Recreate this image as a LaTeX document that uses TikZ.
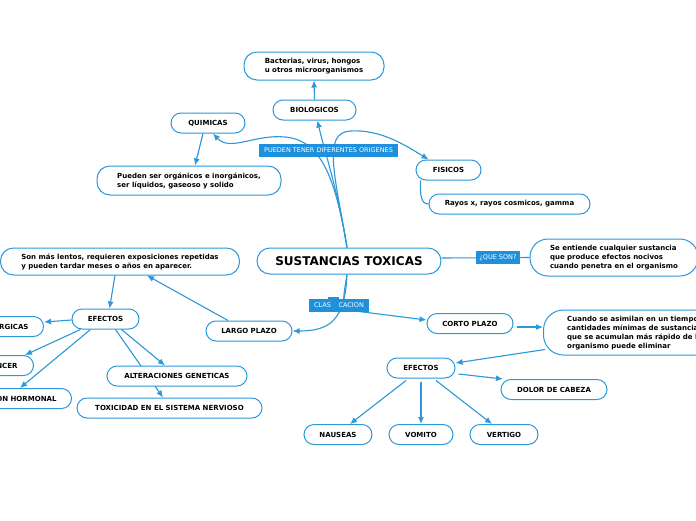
\documentclass[tikz,border=0pt]{standalone}
\usepackage{fontspec}
\setmainfont{DejaVu Sans}
\usetikzlibrary{arrows.meta}
\definecolor{mapblue}{RGB}{43,152,216}
\definecolor{labblue}{RGB}{30,144,220}
\pgfdeclarelayer{bg}
\pgfsetlayers{bg,main}
\begin{document}
\begin{tikzpicture}[x=1pt,y=-1pt,
  pill/.style={draw=mapblue, line width=1pt, fill=white, rounded corners=10pt,
    minimum height=20pt, inner sep=0pt, font=\fontsize{7}{9}\selectfont\bfseries, text=black},
  conn/.style={draw=mapblue, line width=1.1pt, -{Latex[length=7pt,width=6pt]}},
  plainconn/.style={draw=mapblue, line width=1.1pt},
  tag/.style={fill=labblue, text=white, font=\fontsize{6.5}{7}\selectfont,
    inner xsep=2pt, inner ysep=0pt, minimum height=13pt},
]
\useasboundingbox (0,0) rectangle (696,520);

% nodes
\node[pill, minimum width=184pt, minimum height=26pt, rounded corners=13pt,
  font=\fontsize{12}{14}\selectfont\bfseries] (st) at (349,261) {SUSTANCIAS TOXICAS};
\node[pill, minimum width=140pt, minimum height=28pt, rounded corners=13pt, align=left] (bac) at (314,66) {Bacterias, virus, hongos\\u otros microorganismos};
\node[pill, minimum width=83pt] (bio) at (314.5,110) {BIOLOGICOS};
\node[pill, minimum width=74pt] (qui) at (208,123) {QUIMICAS};
\node[pill, minimum width=184pt, minimum height=29pt, rounded corners=13pt, align=left] (org) at (189,180.5) {Pueden ser orgánicos e inorgánicos,\\ser líquidos, gaseoso y solido};
\node[pill, minimum width=65pt] (fis) at (448.5,170) {FISICOS};
\node[pill, minimum width=161pt] (ray) at (509.5,204) {Rayos x, rayos cosmicos, gamma};
\node[pill, minimum width=168pt, minimum height=37pt, rounded corners=18pt, align=left] (ent) at (614,257.5) {Se entiende cualquier sustancia\\que produce efectos nocivos\\cuando penetra en el organismo};
\node[pill, minimum width=86pt] (corto) at (470,323.5) {CORTO PLAZO};
\node[pill, minimum width=180pt, minimum height=45pt, rounded corners=20pt, anchor=west] (cuando) at (543,332.5) {};
\node[anchor=west, align=left, inner sep=0pt, font=\fontsize{7}{9}\selectfont\bfseries] (cuandotxt) at (567,333) {Cuando se asimilan en un tiempo\\cantidades mínimas de sustancias\\que se acumulan más rápido de lo\\organismo puede eliminar};
\node[pill, minimum width=68pt] (efr) at (421,368) {EFECTOS};
\node[pill, minimum width=106pt] (dolor) at (554,389.5) {DOLOR DE CABEZA};
\node[pill, minimum width=68pt] (nau) at (338,434.5) {NAUSEAS};
\node[pill, minimum width=64pt] (vom) at (421,434.5) {VOMITO};
\node[pill, minimum width=68pt] (ver) at (504,434.5) {VERTIGO};
\node[pill, minimum width=239pt, minimum height=27pt, rounded corners=13pt, align=left] (len) at (120,261.5) {Son más lentos, requieren exposiciones repetidas\\y pueden tardar meses o años en aparecer.};
\node[pill, minimum width=86pt] (largo) at (249,331) {LARGO PLAZO};
\node[pill, minimum width=67pt] (efl) at (105.5,319) {EFECTOS};
\node[pill, anchor=east, inner xsep=15pt] (ale) at (44,326.5) {ALERGICAS};
\node[pill, anchor=east, inner xsep=16pt] (can) at (34,365.5) {CANCER};
\node[pill, anchor=east, inner xsep=15pt] (hor) at (72,398.5) {ALTERACION HORMONAL};
\node[pill, minimum width=140pt] (gen) at (177,376) {ALTERACIONES GENETICAS};
\node[pill, minimum width=185pt] (tox) at (169.5,408) {TOXICIDAD EN EL SISTEMA NERVIOSO};

% labels on connectors
\node[tag, minimum width=139pt] (orig) at (328.5,150.5) {PUEDEN TENER DIFERENTES ORIGENES};
\node[tag, minimum width=44pt] (que) at (498,257.5) {¿QUE SON?};
\node[tag, minimum width=60pt] (clas) at (339,305.5) {CLAS\phantom{IFI}CACION};
\fill[labblue] (328,297) rectangle (338.5,300);

\begin{pgfonlayer}{bg}
\fill[white] (0,0) rectangle (696,520);
% origins
\draw[conn] ([xshift=-2pt]st.north) .. controls (338,190) and (324,150) .. ([xshift=3pt]bio.south);
\draw[conn] ([xshift=-2pt]st.north) .. controls (335,175) and (320,140) .. (285,137)
  .. controls (255,134) and (230,152) .. ([xshift=5pt]qui.south);
\draw[conn] ([xshift=-2pt]st.north) .. controls (335,175) and (322,133) .. (350,131)
  .. controls (380,129) and (405,145) .. ([xshift=-20pt]fis.north);
\draw[conn] (bio.north) -- (bac.south);
\draw[conn] ([xshift=-5pt]qui.south) -- ([xshift=6pt]org.north);
\draw[plainconn] ([xshift=-28pt]fis.south) .. controls (420,195) and (421,204) .. (ray.west);
% que son
\draw[plainconn] ([yshift=3pt]st.east) -- (ent.west);
% clasificacion
\draw[conn] ([xshift=-2pt]st.south) .. controls (345,320) and (330,331) .. (largo.east);
\draw[conn] ([xshift=-2pt]st.south) .. controls (343,300) and (340,309) .. (355,311)
  -- ([yshift=3.5pt]corto.west);
% largo plazo
\draw[conn] ([xshift=-21pt]largo.north) -- ([xshift=27pt]len.south);
\draw[conn] ([xshift=-5pt]len.south) -- ([xshift=4pt]efl.north);
\draw[conn] ([yshift=-1pt]efl.west) -- ([yshift=4.5pt]ale.east);
\draw[conn] ([xshift=-25pt]efl.south) -- ([xshift=-9pt]can.north east);
\draw[conn] ([xshift=-15pt]efl.south) -- ([xshift=-52pt]hor.north east);
\draw[conn] ([xshift=16pt]efl.south) -- ([xshift=-12pt]gen.north);
\draw[conn] ([xshift=10pt]efl.south) -- ([xshift=-6.5pt]tox.north);
% corto plazo
\draw[conn] ([xshift=3pt,yshift=-3.5pt]corto.east) -- ([yshift=5.5pt]cuando.west);
\draw[conn] ([xshift=2pt,yshift=6pt]cuando.south west) -- ([yshift=5pt]efr.east);
\draw[conn] ([xshift=3pt,yshift=-6pt]efr.east) -- ([xshift=-51pt]dolor.north);
\draw[conn] ([xshift=-15pt,yshift=-2pt]efr.south) -- ([xshift=12pt]nau.north);
\draw[conn] ([yshift=-3pt]efr.south) -- (vom.north);
\draw[conn] ([xshift=15pt,yshift=-2pt]efr.south) -- ([xshift=-12pt]ver.north);
\end{pgfonlayer}
\end{tikzpicture}
\end{document}
